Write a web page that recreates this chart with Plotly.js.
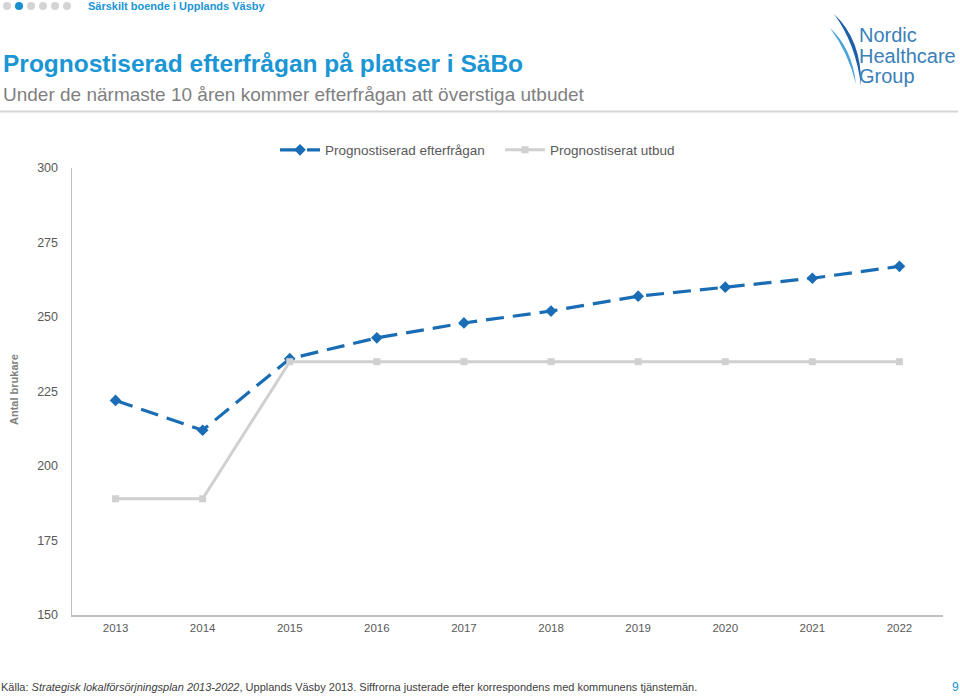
<!DOCTYPE html>
<html>
<head>
<meta charset="utf-8">
<script src="https://cdn.plot.ly/plotly-3.0.1.min.js"></script>
<style>
html,body{margin:0;padding:0;background:#fff;}
#chart{width:960px;height:696px;}
</style>
</head>
<body>
<div id="chart"></div>
<script>
// ---- data ----
const years = ['2013','2014','2015','2016','2017','2018','2019','2020','2021','2022'];
const demand = [222, 212, 236, 243, 248, 252, 257, 260, 263, 267];
const supply = [189, 189, 235, 235, 235, 235, 235, 235, 235, 235];
const seriesNames = ['Prognostiserad efterfrågan', 'Prognostiserat utbud'];
const yTicks = [150, 175, 200, 225, 250, 275, 300];

// ---- layout helpers (pixel -> paper) ----
const W = 960, H = 696;
const L = 72, R = 943, T = 168, B = 615;
const px = x => (x - L) / (R - L);
const py = y => (B - y) / (B - T);
const FONT = 'Liberation Sans, Arial, sans-serif';

function ann(text, x, y, size, color, opts) {
  return Object.assign({
    text: text, xref: 'paper', yref: 'paper', x: px(x), y: py(y),
    xanchor: 'left', yanchor: 'middle', showarrow: false,
    font: {family: FONT, size: size, color: color}
  }, opts || {});
}

const annotations = [
  ann('<b>Särskilt boende i Upplands Väsby</b>', 86, 6, 11, '#1a96d4'),
  ann('<b>Prognostiserad efterfrågan på platser i SäBo</b>', 1, 63, 24.5, '#1a96d4'),
  ann('Under de närmaste 10 åren kommer efterfrågan att överstiga utbudet', 1, 95, 19, '#7f7f7f'),
  ann('<b>Antal brukare</b>', 14, 390, 11, '#7f7f7f', {xanchor: 'center', textangle: -90}),
  ann('Källa: <i>Strategisk lokalförsörjningsplan 2013-2022</i>, Upplands Väsby 2013. Siffrorna justerade efter korrespondens med kommunens tjänstemän.', -1, 687, 11, '#404040'),
  ann('9', 955, 687, 12, '#1a96d4', {xanchor: 'center'}),
  ann('Nordic', 857, 35, 20, '#3a7fb8'),
  ann('Healthcare', 857, 56, 20, '#3a7fb8'),
  ann('Group', 857, 76, 20, '#3a7fb8')
];

const shapes = [];
// header dots
const dotX = [7, 19, 31, 43, 55, 67];
dotX.forEach((cx, i) => {
  shapes.push({type: 'circle', xref: 'paper', yref: 'paper',
    x0: px(cx - 4), x1: px(cx + 4), y0: py(6 + 4), y1: py(6 - 4),
    fillcolor: i === 1 ? '#1a8fd0' : '#d4d4d4', line: {width: 0}});
});
// header separator line
shapes.push({type: 'line', xref: 'paper', yref: 'paper',
  x0: px(0), x1: px(958), y0: py(111.5), y1: py(111.5),
  line: {color: '#d6d6d6', width: 2}});
// logo swooshes
function pathFromPx(pts) {
  return pts.map(p => (p[0] + ' ' + px(p[1]) + ',' + py(p[2])).trim()).join(' ') + ' Z';
}
shapes.push({type: 'path', xref: 'paper', yref: 'paper',
  path: pathFromPx([['M', 834, 14], ['Q', 862, 40], ['', 861, 86], ['Q', 856, 44], ['', 834, 14]]),
  fillcolor: '#1d5fa8', line: {width: 0}});
shapes.push({type: 'path', xref: 'paper', yref: 'paper',
  path: pathFromPx([['M', 830, 28], ['Q', 852, 48], ['', 856, 84], ['Q', 848, 52], ['', 830, 28]]),
  fillcolor: '#4aa3d8', line: {width: 0}});

const traces = [
  {
    x: years, y: demand, name: seriesNames[0], type: 'scatter', mode: 'lines+markers',
    line: {color: '#1a6db5', width: 3.2, dash: '18px,9px'},
    marker: {symbol: 'diamond', size: 9, color: '#1a6db5'}
  },
  {
    x: years, y: supply, name: seriesNames[1], type: 'scatter', mode: 'lines+markers',
    line: {color: '#d0d0d0', width: 3},
    marker: {symbol: 'square', size: 7, color: '#d0d0d0'}
  }
];

const layout = {
  width: W, height: H,
  margin: {l: L, r: W - R, t: T, b: H - B, pad: 0},
  paper_bgcolor: '#fff', plot_bgcolor: '#fff',
  font: {family: FONT, color: '#595959', size: 12},
  showlegend: true,
  legend: {orientation: 'h', x: px(275), y: py(150), xanchor: 'left', yanchor: 'middle',
    font: {family: FONT, size: 13.5, color: '#595959'}, itemwidth: 40, entrywidth: 170,
    tracegroupgap: 0, bgcolor: 'rgba(0,0,0,0)'},
  xaxis: {
    type: 'category', range: [-0.5, 9.5], showgrid: false, zeroline: false, showline: true,
    linecolor: '#bfbfbf', linewidth: 1.5, ticks: '', ticklabelstandoff: 2,
    tickfont: {size: 11.5, color: '#595959'}, fixedrange: true
  },
  yaxis: {
    range: [150, 300], tickvals: yTicks, showgrid: false, zeroline: false, showline: true,
    linecolor: '#bfbfbf', linewidth: 1.5, ticks: '', ticklabelstandoff: 10,
    tickfont: {size: 12.5, color: '#595959'}, fixedrange: true
  },
  annotations: annotations,
  shapes: shapes
};

Plotly.newPlot('chart', traces, layout, {displayModeBar: false, staticPlot: true});
</script>
</body>
</html>
